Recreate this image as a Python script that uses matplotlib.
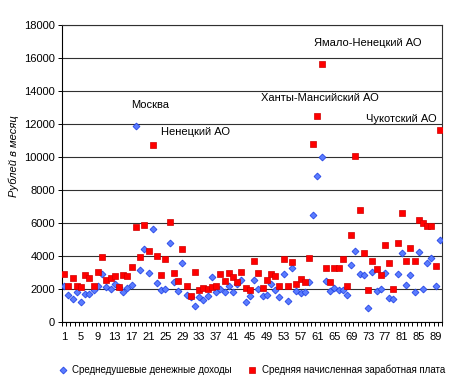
import matplotlib
matplotlib.use('Agg')
import matplotlib.pyplot as plt
from matplotlib.lines import Line2D

plt.rcParams['font.family'] = ['Liberation Sans', 'DejaVu Sans']

regions = list(range(1, 91))

income = [2170, 1630, 1440, 1860, 1210, 1690, 1690, 1930, 2190, 2900,
          2110, 2040, 2340, 2150, 1820, 2080, 2280, 11900, 3140, 4410,
          2960, 5630, 2350, 1930, 1990, 4780, 2430, 1880, 3580, 1680,
          1510, 960, 1520, 1320, 1620, 2770, 1860, 2020, 1810, 2180,
          1810, 2320, 2550, 1200, 1620, 2570, 2020, 1580, 1680, 2300,
          1940, 1520, 2910, 1270, 3290, 1880, 1760, 1820, 2470, 6520,
          8830, 10000, 2520, 1890, 2090, 1980, 1980, 1630, 3490, 4340,
          2950, 2890, 890, 3060, 1920, 2000, 3010, 1490, 1430, 2950,
          4220, 2280, 2880, 1860, 4270, 2030, 3620, 3920, 2170, 4960]

wage = [2950, 2200, 2700, 2200, 2160, 2880, 2700, 2200, 3030, 3930,
        2540, 2710, 2780, 2140, 2890, 2820, 3320, 5750, 3930, 5870,
        4290, 10750, 3990, 2840, 3810, 6050, 2980, 2530, 4460, 2210,
        1610, 3020, 1980, 2050, 1990, 2110, 2210, 2900, 2480, 2970,
        2770, 2470, 3070, 2080, 1940, 3690, 3010, 2050, 2590, 2950,
        2830, 2180, 3860, 2200, 3680, 2290, 2610, 2460, 3910, 10800,
        12520, 15610, 3300, 2450, 3300, 3300, 3810, 2200, 5310, 10040,
        6770, 4200, 1970, 3730, 3200, 2890, 4710, 3620, 2040, 4830,
        6590, 3740, 4510, 3740, 6190, 6030, 5850, 5850, 3430, 11650]

x_ticks = list(range(1, 90, 4))
x_tick_labels = [str(v) for v in x_ticks]
y_ticks = list(range(0, 18001, 2000))

series_names = ["Среднедушевые денежные доходы",
                "Средняя начисленная заработная плата"]
ylabel = "Рублей в месяц"

notes = [("Москва", 16.9, 13150, 'left'),
         ("Ненецкий АО", 23.9, 11550, 'left'),
         ("Ханты-Мансийский АО", 75.6, 13580, 'right'),
         ("Ямало-Ненецкий АО", 60.1, 16900, 'left'),
         ("Чукотский АО", 72.6, 12300, 'left')]

W, H = 457, 387
fig = plt.figure(figsize=(W / 100, H / 100), dpi=100)
fig.patch.set_facecolor('white')
ax = fig.add_axes([62 / W, 1 - 322.3 / H, 380 / W, 297.3 / H])

blue_face, blue_edge = '#5A7CFF', '#2546E6'
red_face, red_edge = '#FF0000', '#D00000'
blue_style = dict(linestyle='none', marker='D', markersize=3.5,
                  markerfacecolor=blue_face, markeredgecolor=blue_edge,
                  markeredgewidth=0.6)
red_style = dict(linestyle='none', marker='s', markersize=4.3,
                 markerfacecolor=red_face, markeredgecolor=red_edge,
                 markeredgewidth=0.5)

ax.plot(regions, income, zorder=3, **blue_style)
ax.plot(regions, wage, zorder=4, **red_style)

ax.set_xlim(0.5, 90.5)
ax.set_ylim(0, 18000)
ax.set_yticks(y_ticks)
ax.set_yticklabels([str(v) for v in y_ticks], fontsize=8)
ax.set_xticks(x_ticks)
ax.set_xticklabels(x_tick_labels, fontsize=8)
ax.set_xticks([v + 0.5 for v in range(0, 91)], minor=True)
ax.tick_params(axis='x', which='major', length=0, pad=7)
ax.tick_params(axis='x', which='minor', length=3, width=0.7, direction='out')
ax.tick_params(axis='y', which='major', length=3, width=0.7, direction='out', pad=2)

ax.yaxis.grid(True, color='#303030', linewidth=0.8)
ax.set_axisbelow(True)
for s in ['left', 'bottom', 'right', 'top']:
    ax.spines[s].set_color('#000000')
    ax.spines[s].set_linewidth(0.8)
ax.spines['top'].set_color('#303030')
ax.spines['right'].set_color('#303030')

ax.set_ylabel(ylabel, fontsize=8, style='italic')
ax.yaxis.set_label_coords(-0.112, 0.56)

for txt, xv, yv, ha in notes:
    ax.text(xv, yv, txt, fontsize=8, ha=ha, va='center', color='black')

# manual legend at the bottom
ly = 1 - 370 / H
fig.add_artist(Line2D([63 / W], [ly], transform=fig.transFigure, **blue_style))
fig.text(72 / W, ly, series_names[0], fontsize=7.0, ha='left', va='center')
fig.add_artist(Line2D([252 / W], [ly], transform=fig.transFigure, **red_style))
fig.text(262 / W, ly, series_names[1], fontsize=7.0, ha='left', va='center')

fig.savefig('out.png', dpi=100, facecolor='white')
